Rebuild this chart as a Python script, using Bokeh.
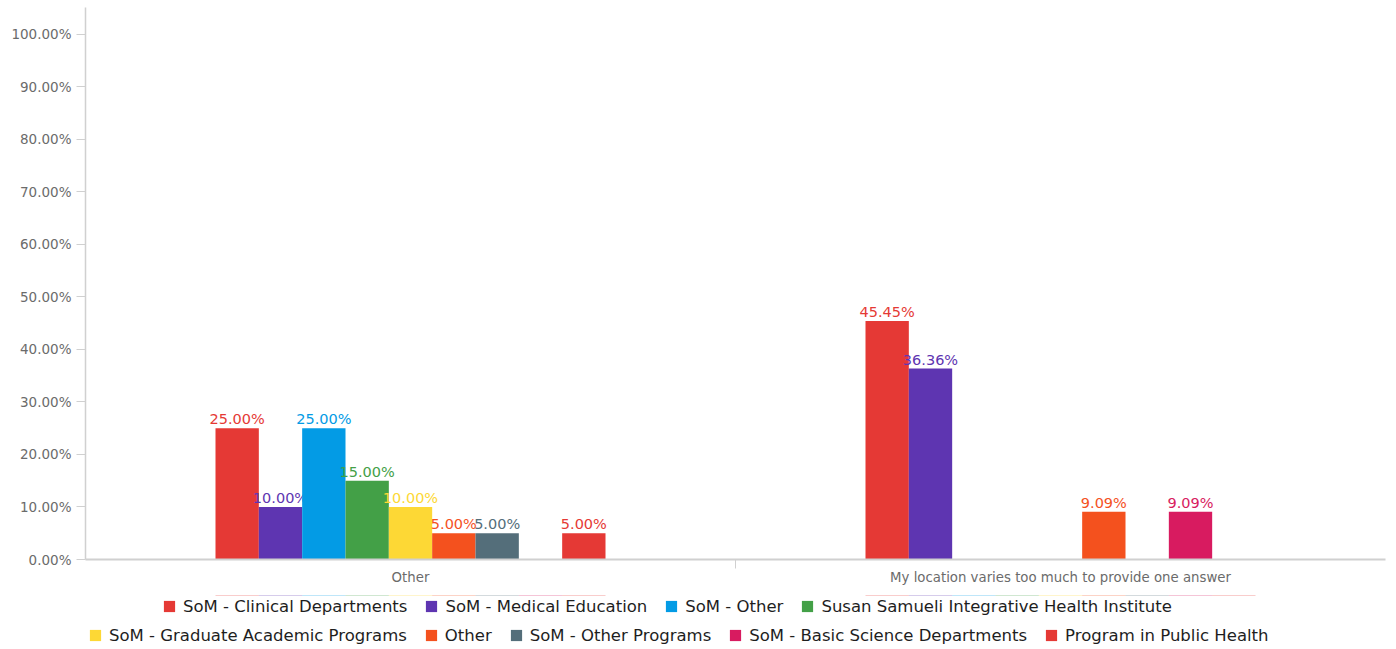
from bokeh.plotting import figure
from bokeh.layouts import column
from bokeh.models import (ColumnDataSource, Legend, LegendItem, LinearAxis,
                          Range1d, FixedTicker, PrintfTickFormatter)
from bokeh.transform import dodge
from bokeh.core.properties import value
from bokeh.embed import file_html
from bokeh.resources import INLINE

categories = ["Other", "My location varies too much to provide one answer"]
series_names = [
    "SoM - Clinical Departments",
    "SoM - Medical Education",
    "SoM - Other",
    "Susan Samueli Integrative Health Institute",
    "SoM - Graduate Academic Programs",
    "Other",
    "SoM - Other Programs",
    "SoM - Basic Science Departments",
    "Program in Public Health",
]
clinical = [25.00, 45.45]
medical_education = [10.00, 36.36]
som_other = [25.00, 0.0]
susan_samueli = [15.00, 0.0]
graduate = [10.00, 0.0]
other = [5.00, 9.09]
other_programs = [5.00, 0.0]
basic_science = [0.0, 9.09]
public_health = [5.00, 0.0]
series_values = [clinical, medical_education, som_other, susan_samueli, graduate,
                 other, other_programs, basic_science, public_health]
colors = ["#E53935", "#5E35B1", "#039BE5", "#43A047", "#FDD835",
          "#F4511E", "#546E7A", "#D81B60", "#E53935"]
y_ticks = [0, 10, 20, 30, 40, 50, 60, 70, 80, 90, 100]

FONT = "DejaVu Sans"

ncat = len(categories)
centers = [i + 0.5 for i in range(ncat)]
boundaries = [i for i in range(1, ncat)]

p = figure(x_range=Range1d(0, ncat), y_range=(0, 105.14), width=1396, height=595,
           min_border_left=85, min_border_top=7, min_border_right=11, min_border_bottom=36,
           x_axis_location=None, output_backend="svg", toolbar_location=None,
           background_fill_color="white", border_fill_color="white")
p.outline_line_color = None
p.xgrid.visible = False
p.ygrid.visible = False

# y axis
yax = p.yaxis[0]
yax.ticker = FixedTicker(ticks=y_ticks)
yax.formatter = PrintfTickFormatter(format="%.2f%%")
yax.axis_line_color = "#d0d0d0"
yax.axis_line_width = 1.5
yax.major_tick_line_color = "#d0d0d0"
yax.major_tick_out = 9
yax.major_tick_in = 0
yax.minor_tick_line_color = None
yax.major_label_text_font = FONT
yax.major_label_text_font_size = "13.5px"
yax.major_label_text_color = "#6b6b6b"
yax.major_label_standoff = 5

# boundary tick axis
bax = LinearAxis(ticker=FixedTicker(ticks=boundaries),
                 major_label_overrides={b: "" for b in boundaries},
                 major_label_text_font_size="0px",
                 axis_line_color="#d0d0d0", axis_line_width=2,
                 major_tick_line_color="#d0d0d0", major_tick_out=9, major_tick_in=0,
                 minor_tick_line_color=None, major_label_standoff=0)
p.add_layout(bax, "below")

cax = LinearAxis(ticker=FixedTicker(ticks=centers),
                 major_label_overrides={c: lab for c, lab in zip(centers, categories)},
                 axis_line_color=None, major_tick_line_color=None, minor_tick_line_color=None,
                 major_label_text_font=FONT, major_label_text_font_size="13.3px",
                 major_label_text_color="#6b6b6b", major_label_standoff=-5)
p.add_layout(cax, "below")

n = len(series_names)
bw = 0.6 / n
data = {"x": centers}
for i, vals in enumerate(series_values):
    data[f"s{i}"] = vals
    data[f"l{i}"] = [f"{v:.2f}%" if v > 0 else "" for v in vals]
source = ColumnDataSource(data)

for i, name in enumerate(series_names):
    off = (i - (n - 1) / 2) * bw
    p.vbar(x=dodge("x", off), top=f"s{i}", width=bw,
           source=source, fill_color=colors[i], line_color=None)
    p.text(x=dodge("x", off), y=f"s{i}", text=f"l{i}", source=source,
           text_color=colors[i], text_align="center", text_baseline="bottom",
           text_font=value(FONT), text_font_size="14.5px", y_offset=-1)

# legend strip: a second figure (frame aligned with the chart) whose view lies
# outside the bars' range, so only the legend shows
lf = figure(x_range=Range1d(0, ncat), y_range=Range1d(-2, -1), width=1396, height=51,
            min_border=0, x_axis_location=None, y_axis_location=None,
            output_backend="svg", toolbar_location=None,
            background_fill_color="white", border_fill_color="white")
lf.outline_line_color = None
lf.grid.visible = False

items = []
for i, name in enumerate(series_names):
    off = (i - (n - 1) / 2) * bw
    r = lf.vbar(x=dodge("x", off), top=f"s{i}", width=bw, source=source,
                fill_color=colors[i], line_color=None)
    items.append(LegendItem(label=name, renderers=[r]))

def make_legend(its, loc):
    return Legend(items=its, orientation="horizontal", location=loc,
                  label_text_font=FONT, label_text_font_size="16.5px", label_text_color="#1e1e1e",
                  glyph_width=14, glyph_height=14, label_standoff=7, spacing=17,
                  padding=0, margin=0, border_line_color=None, background_fill_alpha=0,
                  label_height=20)

lf.add_layout(make_legend(items[:4], (77, 30)))
lf.add_layout(make_legend(items[4:], (3, 1)))

layout = column(p, lf, spacing=0)
open("out.html", "w").write(file_html(layout, INLINE))
